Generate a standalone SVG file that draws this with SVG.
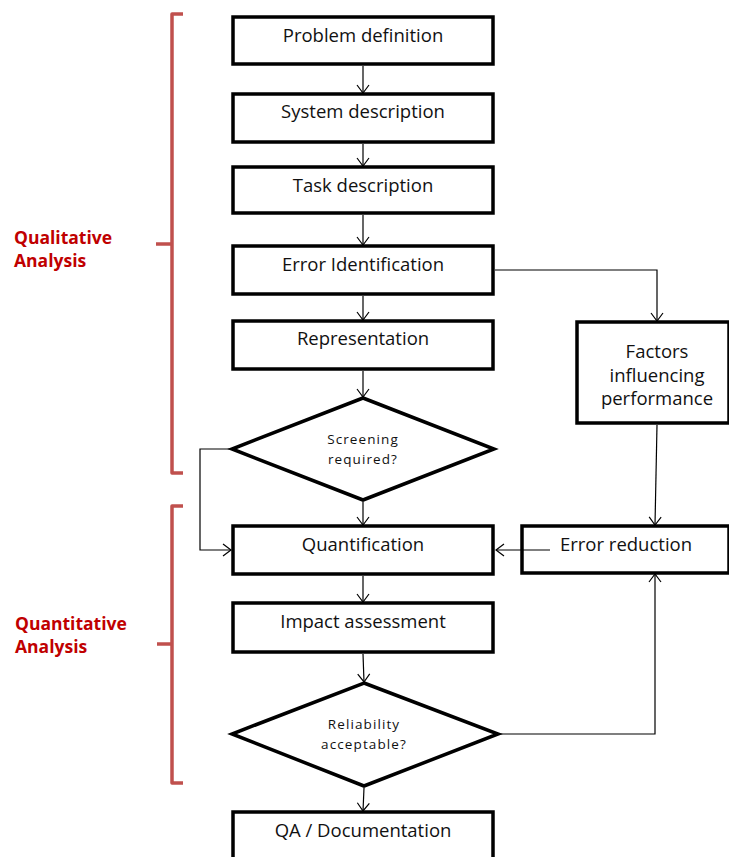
<svg xmlns="http://www.w3.org/2000/svg" width="729" height="857" viewBox="0 0 729 857">
<style>
.box{fill:#fff;stroke:#000;stroke-width:3.5}
.t{font-family:"Open Sans","Liberation Sans",sans-serif;font-size:18.5px;fill:#111;text-anchor:middle}
.s{font-family:"Open Sans","Liberation Sans",sans-serif;font-size:13.5px;fill:#111;text-anchor:middle;letter-spacing:1.1px}
.c{fill:none;stroke:#000;stroke-width:1.2}
.br{fill:none;stroke:#c0504d;stroke-width:3.5;stroke-linejoin:round}
.lab{font-family:"Open Sans","Liberation Sans",sans-serif;font-size:17.5px;font-weight:bold;fill:#c00000}
</style>
<defs>
<marker id="a" markerUnits="userSpaceOnUse" markerWidth="14" markerHeight="14" refX="11" refY="7" orient="auto">
<path d="M3,1 L11,7 L3,13" fill="none" stroke="#000" stroke-width="1.2"/>
</marker>
</defs>
<g id="braces">
<path class="br" d="M183,14 L172,14 L172,244 L156,244 M172,244 L172,473 L183,473"/>
<path class="br" d="M183,506 L172,506 L172,644 L157,644 M172,644 L172,783 L183,783"/>
<text class="lab" x="14" y="244">Qualitative</text>
<text class="lab" x="14" y="267">Analysis</text>
<text class="lab" x="15" y="630">Quantitative</text>
<text class="lab" x="15" y="653">Analysis</text>
</g>
<g id="n1"><rect class="box" x="233" y="17" width="260" height="47"/><text class="t" x="363" y="42">Problem definition</text></g>
<g id="n2"><rect class="box" x="233" y="94" width="260" height="48"/><text class="t" x="363" y="118">System description</text></g>
<g id="n3"><rect class="box" x="233" y="167" width="260" height="46"/><text class="t" x="363" y="192">Task description</text></g>
<g id="n4"><rect class="box" x="233" y="246" width="260" height="48"/><text class="t" x="363" y="271">Error Identification</text></g>
<g id="n5"><rect class="box" x="233" y="321" width="260" height="48"/><text class="t" x="363" y="345">Representation</text></g>
<g id="n6"><polygon class="box" points="363,398 494,449 363,500 232,449"/><text class="s" x="363" y="444">Screening</text><text class="s" x="363" y="464">required?</text></g>
<g id="n7"><rect class="box" x="233" y="526" width="260" height="48"/><text class="t" x="363" y="551">Quantification</text></g>
<g id="n8"><rect class="box" x="233" y="603" width="260" height="49"/><text class="t" x="363" y="628">Impact assessment</text></g>
<g id="n9"><polygon class="box" points="364,683 498,734 364,786 232,734"/><text class="s" x="364" y="729">Reliability</text><text class="s" x="364" y="749">acceptable?</text></g>
<g id="n10"><rect class="box" x="233" y="812" width="260" height="60"/><text class="t" x="363" y="837">QA / Documentation</text></g>
<g id="n11"><rect class="box" x="577" y="322" width="152" height="101"/><text class="t" x="657" y="358">Factors</text><text class="t" x="657" y="382">influencing</text><text class="t" x="657" y="405">performance</text></g>
<g id="n12"><rect class="box" x="522" y="526" width="207" height="47"/><text class="t" x="626" y="551">Error reduction</text></g>
<g id="connectors">
<line class="c" x1="363" y1="66" x2="363" y2="93" marker-end="url(#a)"/>
<line class="c" x1="363" y1="144" x2="363" y2="166" marker-end="url(#a)"/>
<line class="c" x1="363" y1="215" x2="363" y2="245" marker-end="url(#a)"/>
<line class="c" x1="363" y1="296" x2="363" y2="320" marker-end="url(#a)"/>
<line class="c" x1="363" y1="371" x2="363" y2="397" marker-end="url(#a)"/>
<line class="c" x1="363" y1="502" x2="363" y2="525" marker-end="url(#a)"/>
<line class="c" x1="363" y1="576" x2="363" y2="602" marker-end="url(#a)"/>
<line class="c" x1="363" y1="654" x2="364" y2="682" marker-end="url(#a)"/>
<line class="c" x1="364" y1="788" x2="363" y2="811" marker-end="url(#a)"/>
<path class="c" d="M495,270 L657,270 L657,321" marker-end="url(#a)"/>
<line class="c" x1="657" y1="425" x2="655" y2="525" marker-end="url(#a)"/>
<line class="c" x1="550" y1="550" x2="496" y2="550" marker-end="url(#a)"/>
<path class="c" d="M500,734 L655,734 L655,574" marker-end="url(#a)"/>
<path class="c" d="M230,449 L200,449 L200,550 L231,550" marker-end="url(#a)"/>
</g>
</svg>
